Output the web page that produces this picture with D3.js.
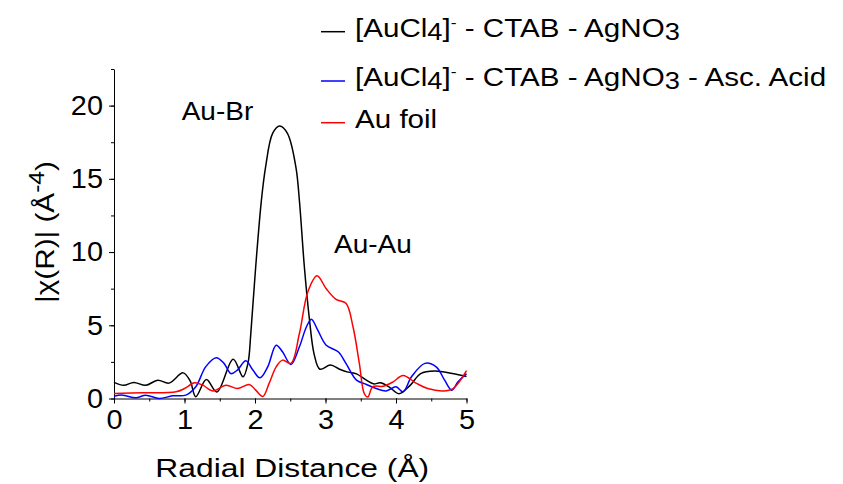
<!DOCTYPE html>
<html>
<head>
<meta charset="utf-8">
<script src="https://cdn.jsdelivr.net/npm/d3@7"></script>
<style>
  body { margin: 0; background: #fff; }
  text { font-family: "Liberation Sans", Arial, sans-serif; fill: #000; }
</style>
</head>
<body>
<div id="chart"></div>
<script>
// |chi(R)| vs radial distance
const ctabAgno3 = [
  [0, 1.1], [0.14, 0.9], [0.28, 1.1], [0.45, 0.9], [0.62, 1.25], [0.78, 1.05],
  [0.98, 1.75], [1.08, 1.2], [1.16, 0.12], [1.31, 1.3], [1.46, 0.45], [1.69, 2.68],
  [1.83, 1.48], [1.9, 2.4], [1.94, 4.4], [2.01, 9], [2.09, 13.5], [2.15, 15.8],
  [2.25, 18.1], [2.35, 18.6], [2.46, 18.1], [2.58, 15.8], [2.63, 13.5], [2.70, 9],
  [2.77, 5.5], [2.84, 3], [2.92, 2.0], [3.07, 2.28], [3.2, 2.0], [3.32, 1.8],
  [3.44, 1.68], [3.58, 1.25], [3.68, 1.0], [3.78, 1.07], [3.9, 0.8], [4.04, 0.33],
  [4.2, 0.9], [4.35, 1.7], [4.55, 1.87], [4.8, 1.7], [5, 1.5]
];
const ctabAgno3Asc = [
  [0, 0.16], [0.12, 0.23], [0.31, 0.05], [0.45, 0.23], [0.64, 0.0], [0.83, 0.18],
  [1.02, 0.23], [1.16, 0.8], [1.3, 2.16], [1.45, 2.78], [1.56, 2.4], [1.66, 1.7],
  [1.75, 1.94], [1.87, 2.57], [1.97, 1.94], [2.07, 1.41], [2.18, 2.16], [2.3, 3.64],
  [2.39, 3.19], [2.51, 2.32], [2.63, 3.53], [2.73, 4.9], [2.8, 5.42], [2.89, 4.67],
  [3.01, 3.64], [3.18, 3.19], [3.29, 2.4], [3.44, 1.25], [3.58, 0.96], [3.72, 0.68],
  [3.86, 0.52], [4.0, 0.8], [4.1, 0.46], [4.22, 1.48], [4.41, 2.4], [4.57, 2.16],
  [4.69, 1.25], [4.79, 0.57], [4.88, 1.14], [5, 1.7]
];
const auFoil = [
  [0, 0.34], [0.4, 0.39], [0.88, 0.46], [1.0, 0.68], [1.14, 1.07], [1.26, 0.91],
  [1.4, 0.52], [1.59, 0.91], [1.75, 0.68], [1.92, 0.96], [2.01, 0.57], [2.11, 0.14],
  [2.2, 1.03], [2.3, 2.16], [2.39, 2.62], [2.51, 2.4], [2.63, 4.44], [2.75, 7.29],
  [2.88, 8.38], [3.01, 7.5], [3.15, 6.77], [3.29, 6.5], [3.39, 4.9], [3.48, 2.4],
  [3.55, 0.34], [3.6, 0.1], [3.67, 0.8], [3.82, 0.84], [3.96, 1.14], [4.1, 1.57],
  [4.29, 1.03], [4.45, 0.68], [4.67, 0.52], [4.81, 0.68], [5, 1.9]
];
const seriesColors = ["#000000", "#0000ff", "#ff0000"];
const xTicks = [0, 1, 2, 3, 4, 5];
const yTicks = [0, 5, 10, 15, 20];
const xMinor = d3.range(0, 5.01, 0.5);
const yMinor = d3.range(0, 22.6, 2.5);

// legend pieces: [text, shift] where shift is "sub", "sup" or ""
const legendRows = [
  [["[AuCl", ""], ["4", "sub"], ["]", ""], ["-", "sup"], [" - CTAB - AgNO", ""], ["3", "sub"]],
  [["[AuCl", ""], ["4", "sub"], ["]", ""], ["-", "sup"], [" - CTAB - AgNO", ""], ["3", "sub"], [" - Asc. Acid", ""]],
  [["Au foil", ""]]
];
const peakNotes = [
  { text: "Au-Br", r: 0.96, chi: 19.0 },
  { text: "Au-Au", r: 3.12, chi: 9.95 }
];

const W = 843, H = 484;
const svg = d3.select("#chart").append("svg")
  .attr("width", W).attr("height", H);

const x = d3.scaleLinear().domain([0, 5]).range([114, 466.5]);
const y = d3.scaleLinear().domain([0, 22.5]).range([398.5, 69]);

// minor ticks
svg.append("g")
  .attr("transform", `translate(0,${y(0)})`)
  .call(d3.axisBottom(x).tickValues(xMinor).tickSize(3).tickFormat(""))
  .call(g => g.select(".domain").remove());
svg.append("g")
  .attr("transform", `translate(${x(0)},0)`)
  .call(d3.axisLeft(y).tickValues(yMinor).tickSize(3).tickFormat(""))
  .call(g => g.select(".domain").remove());

// major axes
const xAxis = svg.append("g")
  .attr("transform", `translate(0,${y(0)})`)
  .call(d3.axisBottom(x).tickValues(xTicks).tickFormat(d3.format("d"))
    .tickSize(5).tickSizeOuter(0).tickPadding(5.5));
xAxis.selectAll("text").style("font-size", "27.5px").attr("transform", "scale(1.05,1)");

const yAxis = svg.append("g")
  .attr("transform", `translate(${x(0)},0)`)
  .call(d3.axisLeft(y).tickValues(yTicks).tickFormat(d3.format("d"))
    .tickSize(5).tickSizeOuter(0).tickPadding(5.5));
yAxis.selectAll("text").style("font-size", "27.5px").attr("transform", "scale(1.05,1)");

svg.selectAll(".domain, .tick line").attr("stroke", "#000").attr("stroke-width", 1);

// curves
const line = d3.line()
  .x(d => x(d[0]))
  .y(d => y(d[1]))
  .curve(d3.curveCatmullRom.alpha(0.5));

[ctabAgno3, ctabAgno3Asc, auFoil].forEach((data, i) => {
  svg.append("path")
    .datum(data)
    .attr("fill", "none")
    .attr("stroke", seriesColors[i])
    .attr("stroke-width", 1.5)
    .attr("d", line);
});

// axis titles
svg.append("text")
  .attr("transform", `translate(${(x(0) + x(5)) / 2 + 2},477) scale(1.2,1)`)
  .attr("text-anchor", "middle")
  .style("font-size", "26.5px")
  .text("Radial Distance (Å)");

const yTitle = svg.append("text")
  .attr("transform", "translate(54,232) rotate(-90) scale(1.12,1)")
  .attr("text-anchor", "middle")
  .style("font-size", "26.5px");
yTitle.append("tspan").text("|χ(R)| (Å");
yTitle.append("tspan").attr("dy", -10).style("font-size", "22px").text("-4");
yTitle.append("tspan").attr("dy", 10).text(")");

// peak labels
peakNotes.forEach(n => {
  svg.append("text")
    .attr("transform", `translate(${x(n.r)},${y(n.chi)}) scale(1.12,1)`)
    .style("font-size", "25px")
    .text(n.text);
});

// legend
const legendY = [36.7, 86, 127.7];
legendRows.forEach((parts, i) => {
  const row = svg.append("g");
  row.append("line")
    .attr("x1", 321).attr("x2", 345)
    .attr("y1", legendY[i] - 5).attr("y2", legendY[i] - 5)
    .attr("stroke", seriesColors[i]).attr("stroke-width", 1.5);
  const t = row.append("text")
    .attr("transform", `translate(355,${legendY[i]}) scale(1.16,1)`)
    .style("font-size", "25.5px");
  let shift = 0;
  parts.forEach(([s, kind]) => {
    const target = kind === "sub" ? 3 : kind === "sup" ? -9 : 0;
    t.append("tspan")
      .attr("dy", target - shift)
      .style("font-size", kind === "sup" ? "15px" : kind === "sub" ? "23.5px" : "25.5px")
      .text(s);
    shift = target;
  });
});
</script>
</body>
</html>
